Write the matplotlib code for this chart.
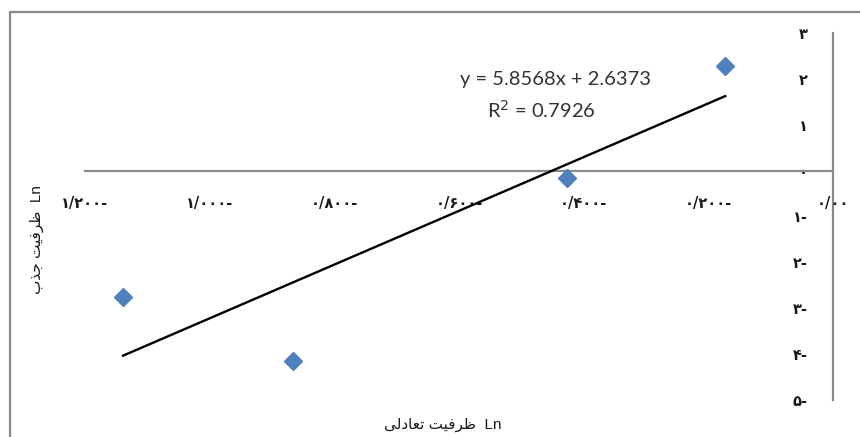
import numpy as np
import matplotlib
matplotlib.use('Agg')
import matplotlib.pyplot as plt
from matplotlib.patches import Rectangle

# data
x_vals = [-1.139, -0.866, -0.427, -0.173]
y_vals = [-2.75, -4.15, -0.17, 2.27]
slope = 5.8568
intercept = 2.6373
r2 = 0.7926

x_ticks = [-1.2, -1.0, -0.8, -0.6, -0.4, -0.2, 0.0]
x_ticklabels = ['۱/۲۰۰-', '۱/۰۰۰-', '۰/۸۰۰-', '۰/۶۰۰-', '۰/۴۰۰-', '۰/۲۰۰-', '۰/۰۰']
y_ticks = [3, 2, 1, 0, -1, -2, -3, -4, -5]
y_ticklabels = ['۳', '۲', '۱', '۰', '۱-', '۲-', '۳-', '۴-', '۵-']

# axis titles in presentation forms, visual order (matplotlib has no bidi/shaping)
x_title = 'ﯽﻟﺩﺎﻌﺗ ﺖﯿﻓﺮﻇ  Ln'
y_title = 'ﺏﺬﺟ ﺖﯿﻓﺮﻇ  Ln'

fig = plt.figure(figsize=(8.6, 4.37), dpi=100)
fig.patch.set_facecolor('white')

# outer chart border (cut at right and bottom)
fig.patches.append(Rectangle((10/860., -0.2), 1.5, 1.2 - 12/437., transform=fig.transFigure,
                             fill=False, edgecolor='#8a8a8a', linewidth=1.6, clip_on=False))

ax = fig.add_axes([85/860., 37/437., 748/860., 367/437.])
ax.set_xlim(-1.2, 0)
ax.set_ylim(-5, 3)

ax.spines['top'].set_visible(False)
ax.spines['right'].set_visible(False)
ax.spines['bottom'].set_position(('data', 0))
ax.spines['left'].set_position(('data', 0))
for s in ['bottom', 'left']:
    ax.spines[s].set_color('#8a8a8a')
    ax.spines[s].set_linewidth(1.6)
ax.spines['left'].set_zorder(1)

ax.set_xticks(x_ticks)
ax.set_xticklabels(x_ticklabels, family=['DejaVu Sans'], fontsize=10.5, weight='bold')
ax.set_yticks(y_ticks)
ax.set_yticklabels(y_ticklabels, family=['DejaVu Sans'], fontsize=10.5, weight='bold')
ax.tick_params(axis='x', length=0, pad=18, colors='#1a1a1a')
ax.tick_params(axis='y', length=0, pad=18, colors='#1a1a1a')

# trendline over data range
xl = np.array([min(x_vals), max(x_vals)])
ax.plot(xl, slope*xl + intercept, color='black', linewidth=1.7, zorder=3)

ax.plot(x_vals, y_vals, linestyle='none', marker='D', markersize=9,
        markerfacecolor='#4f81bd', markeredgecolor='#4f81bd', zorder=4, clip_on=False)

ax.text(-0.445, 1.98, 'y = %.4fx + %.4f' % (slope, intercept), fontsize=14.5,
        family=['Lato', 'DejaVu Sans'], color='#333333', ha='center', va='center')
ax.text(-0.468, 1.33, 'R$^2$ = %.4f' % r2, fontsize=14.5,
        family=['Lato', 'DejaVu Sans'], color='#333333', ha='center', va='center')

fig.text(443/860., 1 - 425/437., x_title, family=['Liberation Sans', 'DejaVu Sans'],
         fontsize=11, ha='center', va='center', color='#1a1a1a')
fig.text(37/860., 1 - 240/437., y_title, family=['Liberation Sans', 'DejaVu Sans'],
         fontsize=11, ha='center', va='center', rotation=90, color='#1a1a1a')

plt.savefig('out.png', dpi=100)
